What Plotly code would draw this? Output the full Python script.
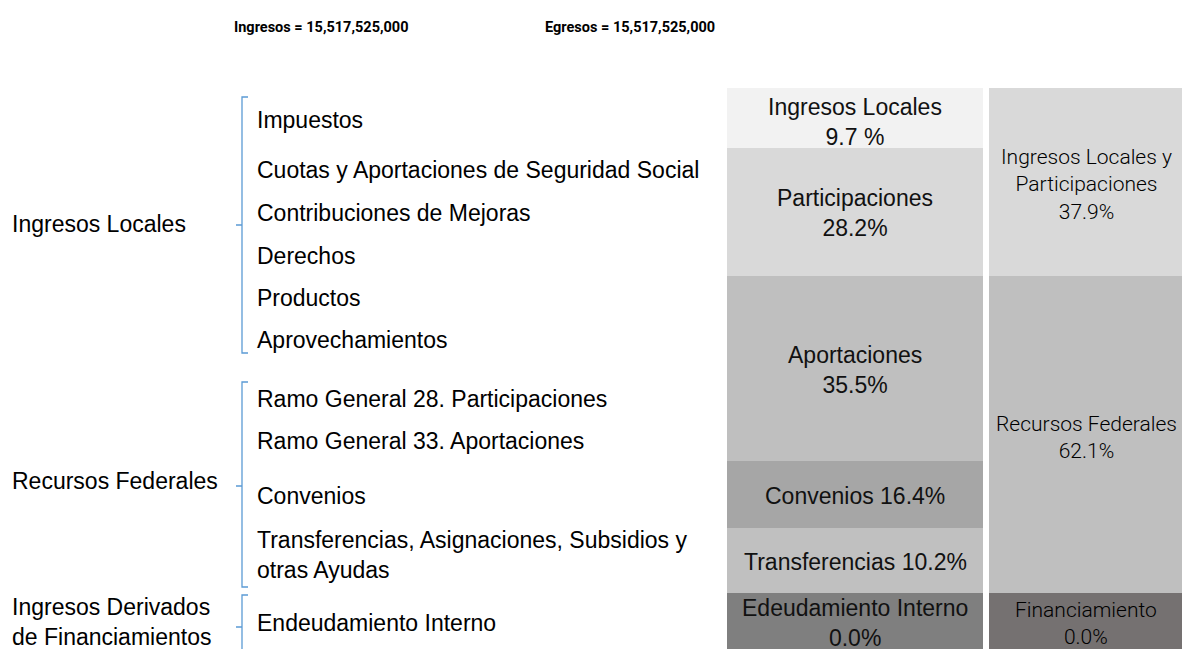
import plotly.graph_objects as go

# ---------------- data ----------------
total_ingresos = "15,517,525,000"
total_egresos = "15,517,525,000"

grupos = ["Ingresos Locales", "Recursos Federales", "Ingresos Derivados<br>de Financiamientos"]
rubros_locales = ["Impuestos", "Cuotas y Aportaciones de Seguridad Social",
                  "Contribuciones de Mejoras", "Derechos", "Productos", "Aprovechamientos"]
rubros_federales = ["Ramo General 28. Participaciones", "Ramo General 33. Aportaciones",
                    "Convenios", "Transferencias, Asignaciones, Subsidios y<br>otras Ayudas"]
rubros_financ = ["Endeudamiento Interno"]

detalle_nombres = ["Ingresos Locales<br>", "Participaciones<br>", "Aportaciones<br>",
                   "Convenios ", "Transferencias ", "Edeudamiento Interno<br>"]
detalle_pct = ["9.7 %", "28.2%", "35.5%", "16.4%", "10.2%", "0.0%"]

resumen_nombres = ["Ingresos Locales y<br>Participaciones<br>", "Recursos Federales<br>",
                   "Financiamiento<br>"]
resumen_pct = ["37.9%", "62.1%", "0.0%"]

# ---------------- layout constants ----------------
W, H = 1182, 649
FONT = "Liberation Sans, Arial, sans-serif"
FONT_R = "Roboto, sans-serif"
FS = 23
BLUE = "#5b9bd5"

fig = go.Figure()
fig.add_trace(go.Scatter(x=[0, W], y=[0, H], mode="markers",
                         marker=dict(opacity=0), hoverinfo="skip", showlegend=False))

shapes = []
ann = []

def text(x, y, s, xanchor="left", family=FONT, size=FS, color="#000000", weight=None):
    f = dict(family=family, size=size, color=color)
    if weight:
        f["weight"] = weight
    ann.append(dict(x=x, y=y, xref="x", yref="y", text=s, showarrow=False,
                    xanchor=xanchor, yanchor="middle", align="center" if xanchor == "center" else "left",
                    font=f))

# headers
text(321, 27, "Ingresos = " + total_ingresos, xanchor="center", family=FONT_R, size=14.5, weight=700)
text(630, 27, "Egresos = " + total_egresos, xanchor="center", family=FONT_R, size=14.5, weight=700)

# group labels
grupo_y = [224, 481, 622]
for g, y in zip(grupos, grupo_y):
    text(10, y, g)

# sub-items
rubros = rubros_locales + rubros_federales + rubros_financ
rubros_y = [120, 170, 213, 256, 298, 340, 399, 441, 496, 555, 623]
for r, y in zip(rubros, rubros_y):
    text(255, y, r)

# brackets
brackets = [(97, 353, 225), (382, 587, 486), (595, 662, 627)]
for top, bot, mid in brackets:
    bx = 242
    path = f"M {bx+6} {top} L {bx} {top} L {bx} {bot} L {bx+6} {bot} M {bx} {mid} L {bx-6} {mid}"
    shapes.append(dict(type="path", path=path, xref="x", yref="y",
                       line=dict(color=BLUE, width=1.3)))

# detail boxes (left column)
det_colors = ["#f2f2f2", "#d9d9d9", "#bfbfbf", "#a6a6a6", "#c0c0c0", "#7f7f7f"]
det_edges = [88, 148, 276, 461, 528, 593, 660]
det_text_y = [122, 213, 370, 496, 562, 623]
for i, (n, p) in enumerate(zip(detalle_nombres, detalle_pct)):
    shapes.append(dict(type="rect", xref="x", yref="y", x0=727, x1=983,
                       y0=det_edges[i], y1=det_edges[i + 1],
                       fillcolor=det_colors[i], line=dict(width=0), layer="below"))
    text(855, det_text_y[i], n + p, xanchor="center", color="#111111")

# summary boxes (right column)
res_colors = ["#d9d9d9", "#bfbfbf", "#757171"]
res_edges = [88, 276, 593, 660]
res_text_y = [184, 437, 623]
for i, (n, p) in enumerate(zip(resumen_nombres, resumen_pct)):
    shapes.append(dict(type="rect", xref="x", yref="y", x0=989, x1=1190,
                       y0=res_edges[i], y1=res_edges[i + 1],
                       fillcolor=res_colors[i], line=dict(width=0), layer="below"))
    text(1086, res_text_y[i], n + p, xanchor="center", family=FONT_R, size=21,
         color="#000000", weight=300)

fig.update_layout(
    width=W, height=H,
    margin=dict(l=0, r=0, t=0, b=0),
    paper_bgcolor="white", plot_bgcolor="white",
    xaxis=dict(range=[0, W], visible=False, fixedrange=True),
    yaxis=dict(range=[H, 0], visible=False, fixedrange=True),
    shapes=shapes, annotations=ann, showlegend=False,
)

fig.write_html("out.html", config={"displayModeBar": False},
               post_script="document.body.style.margin='0';document.body.style.overflow='hidden';")
